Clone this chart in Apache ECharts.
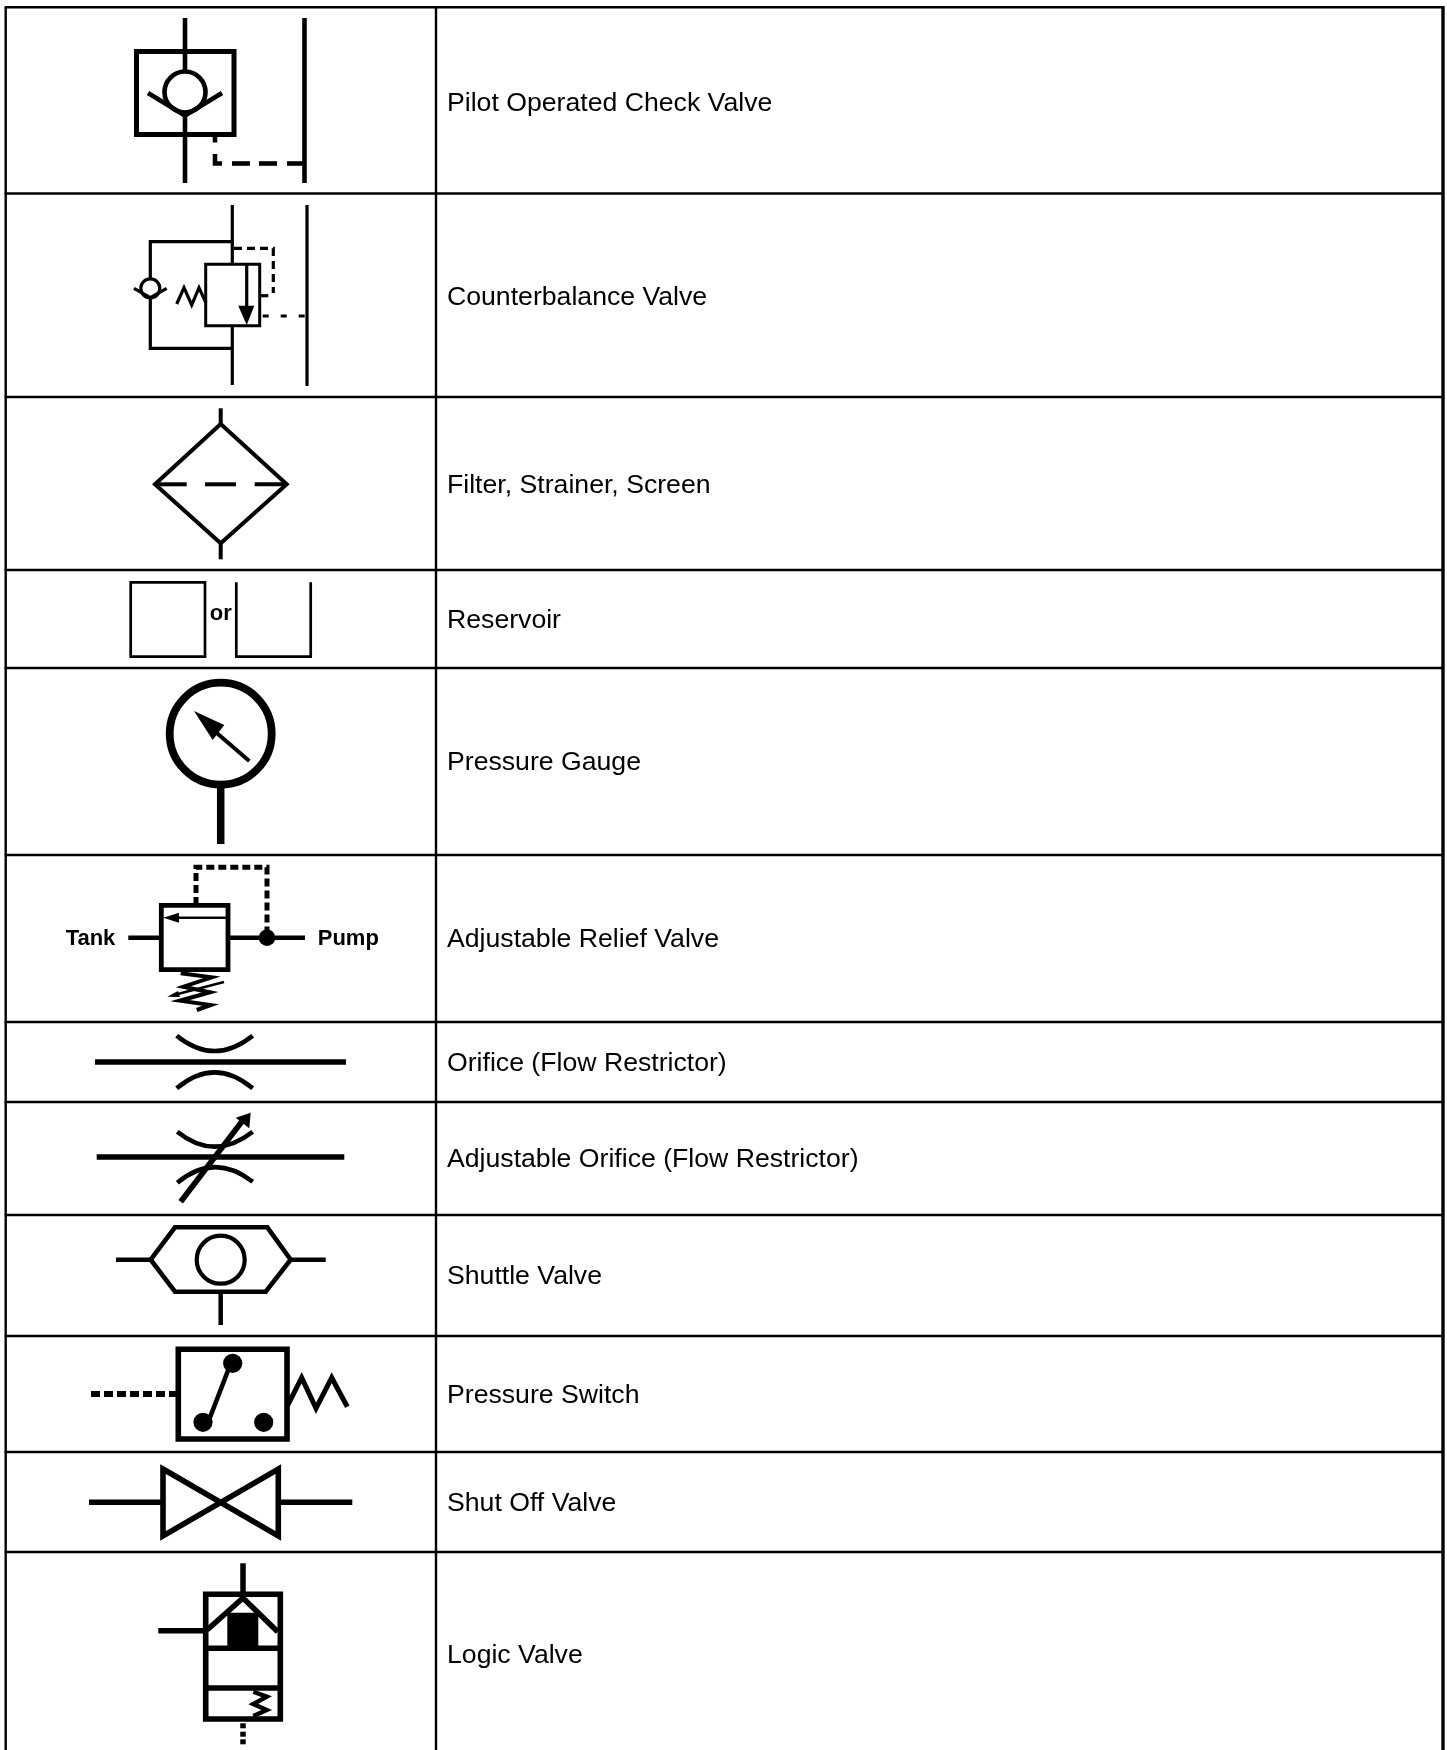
<!DOCTYPE html>
<html>
<head>
<meta charset="utf-8">
<style>
  html, body { margin: 0; padding: 0; background: #fff; }
  #chart { width: 1447px; height: 1750px; }
</style>
<script src="https://cdn.jsdelivr.net/npm/echarts@6/dist/echarts.min.js"></script>
</head>
<body>
<div id="chart"></div>
<script>
// table text and rules
const rowLabels = ['Pilot Operated Check Valve', 'Counterbalance Valve', 'Filter, Strainer, Screen', 'Reservoir', 'Pressure Gauge', 'Adjustable Relief Valve', 'Orifice (Flow Restrictor)', 'Adjustable Orifice (Flow Restrictor)', 'Shuttle Valve', 'Pressure Switch', 'Shut Off Valve', 'Logic Valve']
const rowLabelY = [103.5, 297.5, 486, 621, 763, 940, 1064, 1160, 1277, 1396, 1504, 1656]
const rowRuleY = [7.2, 193.5, 397, 570, 668, 855, 1022, 1102, 1215, 1336, 1452, 1552]
const columnRuleX = [5.7, 436]
const rightRuleX = [1443]

// pilot operated check valve
const pilotLines = [
  [[185, 18], [185, 72]], [[185, 115], [185, 183]], [[304.5, 18], [304.5, 183]],
  [[148, 93], [185, 115.5], [222, 93]]
]
const pilotBox = [[[136.5, 51.5], [234, 51.5], [234, 134.5], [136.5, 134.5]]]
const pilotBall = [[185, 92, 20.5]]
const pilotDash = [
  [[215, 137], [215, 142.5]], [[215, 154], [215, 163.5], [222, 163.5]],
  [[232, 163.5], [250, 163.5]], [[259, 163.5], [277, 163.5]], [[287, 163.5], [304, 163.5]]
]

// counterbalance valve
const counterLines = [
  [[232.3, 205], [232.3, 264]], [[232.3, 326], [232.3, 385]], [[307, 205], [307, 386]],
  [[232, 241.7], [150.3, 241.7], [150.3, 279]], [[150.3, 297.7], [150.3, 348.3], [232, 348.3]],
  [[134, 288.3], [150.3, 297.7], [166.7, 288.3]],
  [[176.7, 304], [184, 287.7], [191.7, 305], [199, 287.7], [206, 303]],
  [[259.7, 295.7], [268.3, 295.7]], [[246.7, 264.3], [246.7, 310]]
]
const counterBox = [[[205.7, 264.3], [259.7, 264.3], [259.7, 325.7], [205.7, 325.7]]]
const counterBall = [[150.3, 288.3, 9.5]]
const counterHead = [[[238.3, 305.7], [254.3, 305.7], [246.7, 325]]]
const counterDashUpper = [[[234, 248.3], [273.3, 248.3], [273.3, 293]]]
const counterDashLower = [[[262.7, 316], [307, 316]]]

// filter
const filterLines = [
  [[220.7, 408.3], [220.7, 424]], [[220.7, 543.3], [220.7, 559.3]],
  [[155, 484.3], [186.7, 484.3]], [[205, 484.3], [236, 484.3]], [[254.7, 484.3], [286.7, 484.3]]
]
const filterBody = [[[220.7, 424], [286.7, 484.3], [220.7, 543.3], [155, 484.3]]]

// reservoir
const reservoirBox = [[[130.7, 582.3], [205, 582.3], [205, 656.7], [130.7, 656.7]]]
const reservoirOpen = [[[236.3, 582.3], [236.3, 656.7], [310.7, 656.7], [310.7, 582.3]]]

// pressure gauge
const gaugeRing = [[220.7, 733.7, 51]]
const gaugeStem = [[[220.7, 784], [220.7, 844]]]
const gaugeNeedle = [[[249.3, 761], [213.3, 730]]]
const gaugeHead = [[[194, 711], [224.3, 725], [212.7, 740]]]

// adjustable relief valve
const reliefLines = [[[128.3, 937.7], [161, 937.7]], [[228, 937.7], [305, 937.7]]]
const reliefBox = [[[161.3, 905.3], [228, 905.3], [228, 969.7], [161.3, 969.7]]]
const reliefDash = [[[196, 905], [196, 867.3], [267, 867.3], [267, 937]]]
const reliefDot = [[267, 937.7, 8.3]]
const reliefThin = [[[170, 917.7], [226, 917.7]], [[224, 982], [172, 995.5]]]
const reliefHeads = [[[163.3, 917.7], [179, 912.7], [179, 922.7]], [[167.3, 996.7], [178, 991], [180, 997]]]
const reliefSpring = [[[180.7, 973.3], [211.7, 977.3], [183.3, 986.7], [210, 992.3], [180, 1000.7], [210.7, 1005], [196.7, 1010]]]

// orifices
const orificeLines = [[[95, 1062], [346, 1062]]]
const orificeCurves = [
  [[176.7, 1035.7], [214.5, 1066.3], [252.7, 1035.7]],
  [[176.7, 1088.3], [214.5, 1056.3], [252.7, 1088.3]]
]
const adjustLines = [[[96.7, 1157], [344.3, 1157]], [[180.7, 1201.7], [241.7, 1121.7]]]
const adjustCurves = [
  [[177.3, 1131.7], [214.5, 1161.7], [252.7, 1131.7]],
  [[177.3, 1182.7], [214.5, 1152], [252.7, 1181.7]]
]
const adjustHead = [[[250.7, 1112.7], [235.7, 1117.7], [249.3, 1128.3]]]

// shuttle valve
const shuttleLines = [[[116, 1259.7], [150.7, 1259.7]], [[290.7, 1259.7], [325.7, 1259.7]], [[220.7, 1292], [220.7, 1325]]]
const shuttleBody = [[[150.7, 1259.7], [175, 1227.3], [267.3, 1227.3], [290.7, 1259.7], [265.7, 1291.7], [175, 1291.7]]]
const shuttleBall = [[220.7, 1259.7, 24]]

// pressure switch
const switchBox = [[[178.3, 1349.3], [287, 1349.3], [287, 1439], [178.3, 1439]]]
const switchDash = [[[91, 1394], [178, 1394]]]
const switchDots = [[232.7, 1363.3, 9.6], [203, 1422.3, 9.6], [263.7, 1422.3, 9.6]]
const switchLink = [[[229, 1368], [209, 1420]]]
const switchSpring = [[[287, 1406.7], [301.7, 1377.7], [316, 1408.3], [331.7, 1377.7], [347.3, 1406.7]]]

// shut off valve
const shutOffLines = [[[89, 1502.3], [161.7, 1502.3]], [[280, 1502.3], [352.3, 1502.3]]]
const shutOffBody = [[[163, 1469], [278.3, 1536], [278.3, 1469], [163, 1536]]]

// logic valve
const logicLines = [
  [[243, 1563.3], [243, 1596]], [[158.3, 1630.7], [205.7, 1630.7]],
  [[205.7, 1648.3], [280.3, 1648.3]], [[205.7, 1688], [280.3, 1688]],
  [[207, 1630], [243, 1598], [277.7, 1631.7]],
  [[243, 1723.3], [243, 1728.3]], [[243, 1731.7], [243, 1736.7]], [[243, 1739.3], [243, 1744.3]]
]
const logicBox = [[[205.7, 1594.3], [280.3, 1594.3], [280.3, 1719], [205.7, 1719]]]
const logicBlock = [[[227.3, 1612.7], [258.3, 1612.7], [258.3, 1648], [227.3, 1648]]]
const logicSpring = [[[253.3, 1691.7], [266.7, 1696.7], [253.3, 1704], [266.7, 1710], [253.3, 1716]]]

// text inside the symbols
const symbolTexts = ['or', 'Tank', 'Pump']
const symbolTextAt = [[220.7, 613.8], [90.5, 938.5], [348.3, 938.5]]

const INK = '#000'
const textFont = '26.65px "Liberation Sans", Arial, sans-serif'
const symbolFont = 'bold 22px "Liberation Sans", Arial, sans-serif'

function strokes(kind, list, width, dash) {
  return list.map(points => ({ kind, points, width, dash }))
}
function discs(list, width) {
  return list.map(c => ({ kind: 'disc', c, width }))
}

const tableRules = rowRuleY.map(y => [[4.7, y], [1444, y]])
  .concat(columnRuleX.map(x => [[x, 7], [x, 1750]]))

const items = [].concat(
  strokes('line', tableRules, 2.4),
  strokes('line', rightRuleX.map(x => [[x, 6], [x, 1750]]), 3.4),
  strokes('line', pilotLines, 4.6),
  strokes('loop', pilotBox, 5),
  discs(pilotBall, 4.6),
  strokes('line', pilotDash, 4.6),
  strokes('line', counterLines, 3.2),
  strokes('loop', counterBox, 3),
  discs(counterBall, 3.2),
  strokes('fill', counterHead),
  strokes('line', counterDashUpper, 3.2, [8, 5]),
  strokes('line', counterDashLower, 3.2, [6, 12]),
  strokes('line', filterLines, 4),
  strokes('loop', filterBody, 4),
  strokes('loop', reservoirBox, 2.7),
  strokes('line', reservoirOpen, 2.7),
  discs(gaugeRing, 7.8),
  strokes('line', gaugeStem, 7.5),
  strokes('line', gaugeNeedle, 4),
  strokes('fill', gaugeHead),
  strokes('line', reliefLines, 4.5),
  strokes('loop', reliefBox, 4.8),
  strokes('line', reliefDash, 5, [8, 4]),
  discs(reliefDot),
  strokes('line', reliefThin, 2.4),
  strokes('fill', reliefHeads),
  strokes('line', reliefSpring, 4),
  strokes('line', orificeLines, 5.6),
  strokes('curve', orificeCurves, 4.6),
  strokes('line', adjustLines, 5.6),
  strokes('curve', adjustCurves, 4.6),
  strokes('fill', adjustHead),
  strokes('line', shuttleLines, 4.5),
  strokes('loop', shuttleBody, 4.6),
  discs(shuttleBall, 4.2),
  strokes('loop', switchBox, 5.6),
  strokes('line', switchDash, 6, [9, 4]),
  strokes('line', switchLink, 4.6),
  discs(switchDots),
  strokes('line', switchSpring, 5),
  strokes('line', shutOffLines, 5.5),
  strokes('loop', shutOffBody, 5.6),
  strokes('line', logicLines, 5.5),
  strokes('loop', logicBox, 5.6),
  strokes('fill', logicBlock),
  strokes('line', logicSpring, 4.4),
  rowLabels.map((text, i) => ({ kind: 'text', text, at: [447, rowLabelY[i]], font: textFont, align: 'left' })),
  symbolTexts.map((text, i) => ({ kind: 'text', text, at: symbolTextAt[i], font: symbolFont, align: 'center' }))
)

function renderItem(params, api) {
  const item = items[params.dataIndex]
  const scale = api.size([1, 0])[0]
  const w = (item.width || 0) * scale
  if (item.kind === 'text') {
    const p = api.coord(item.at)
    return { type: 'text', style: { text: item.text, x: p[0], y: p[1], font: item.font, fill: INK, align: item.align, verticalAlign: 'middle' } }
  }
  if (item.kind === 'disc') {
    const p = api.coord(item.c)
    const style = item.width ? { fill: 'transparent', stroke: INK, lineWidth: w } : { fill: INK }
    return { type: 'circle', shape: { cx: p[0], cy: p[1], r: item.c[2] * scale }, style }
  }
  const pts = item.points.map(p => api.coord(p))
  if (item.kind === 'curve') {
    return {
      type: 'bezierCurve',
      shape: { x1: pts[0][0], y1: pts[0][1], cpx1: pts[1][0], cpy1: pts[1][1], x2: pts[2][0], y2: pts[2][1] },
      style: { fill: null, stroke: INK, lineWidth: w }
    }
  }
  if (item.kind === 'fill') {
    return { type: 'polygon', shape: { points: pts }, style: { fill: INK } }
  }
  return {
    type: item.kind === 'loop' ? 'polygon' : 'polyline',
    shape: { points: pts },
    style: { fill: null, stroke: INK, lineWidth: w, lineDash: item.dash || null, lineJoin: 'miter' }
  }
}

const chart = echarts.init(document.getElementById('chart'), null, { renderer: 'canvas' })
chart.setOption({
  animation: false,
  backgroundColor: '#fff',
  grid: { left: 0, right: 0, top: 0, bottom: 0 },
  xAxis: { type: 'value', min: 0, max: 1447, show: false },
  yAxis: { type: 'value', min: 0, max: 1750, inverse: true, show: false },
  tooltip: { show: false },
  series: [{
    type: 'custom',
    coordinateSystem: 'cartesian2d',
    clip: false,
    silent: true,
    renderItem,
    data: items.map((_, i) => [0, i])
  }]
})
</script>
</body>
</html>
